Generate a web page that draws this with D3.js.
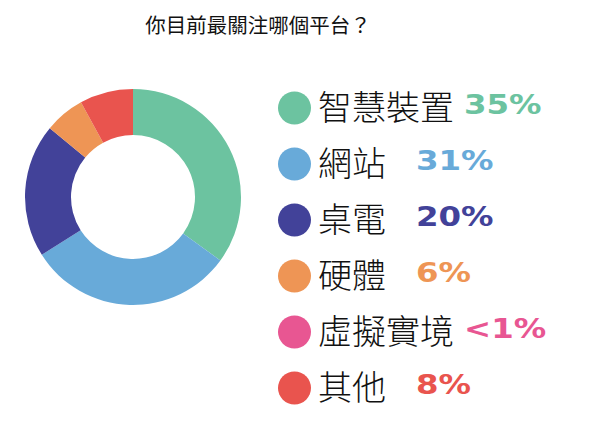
<!DOCTYPE html>
<html><head><meta charset="utf-8">
<script src="https://cdn.jsdelivr.net/npm/d3@7"></script>
<style>body{margin:0;background:#fff}svg{display:block}</style>
</head><body>
<svg id="c" width="615" height="423"></svg>
<script>
const title = "你目前最關注哪個平台？";
const categories = ["智慧裝置","網站","桌電","硬體","虛擬實境","其他"];
const values = [35,31,20,6,0,8];
const valueLabels = ["35%","31%","20%","6%","<1%","8%"];
const colors = ["#6cc3a0","#68aad9","#424299","#ee9555","#e85692","#e9544e"];

const svg = d3.select("#c");
svg.append("text").attr("x",258).attr("y",33).attr("text-anchor","middle")
  .attr("font-family","'Noto Sans CJK TC','Noto Sans CJK SC',sans-serif")
  .attr("font-size",20.5).attr("fill","#111").text(title);

const cx=133, cy=197, rOut=108, rIn=62;
const pie = d3.pie().sort(null).value(d=>d.v);
const data = categories.map((c,i)=>({c, v:values[i], col:colors[i], lab:valueLabels[i]}));
const arc = d3.arc().innerRadius(rIn).outerRadius(rOut);
svg.append("g").attr("transform",`translate(${cx},${cy})`)
  .selectAll("path").data(pie(data)).join("path")
  .attr("d",arc).attr("fill",d=>d.data.col);

const rowY = d3.scaleLinear().domain([0,5]).range([108,388]);
const lg = svg.append("g");
data.forEach((d,i)=>{
  const y=rowY(i);
  lg.append("circle").attr("cx",294.5).attr("cy",y).attr("r",16.5).attr("fill",d.col);
  const t = lg.append("text").attr("x",318).attr("y",y+12)
    .attr("font-family","'Noto Sans CJK TC','Noto Sans CJK SC',sans-serif")
    .attr("font-weight",300).attr("font-size",34).attr("fill","#111").text(d.c);
  const end = 318 + t.node().getComputedTextLength();
  const px = Math.max(end + 10, 416);
  const p = lg.append("text").attr("x",px).attr("y",y+5.5)
    .attr("font-family","'DejaVu Sans',sans-serif").attr("font-weight","bold")
    .attr("font-size",27).attr("fill",d.col).text(d.lab);
  const w = p.node().getComputedTextLength();
  p.attr("textLength", w*1.2).attr("lengthAdjust","spacingAndGlyphs");
});
</script>
</body></html>
